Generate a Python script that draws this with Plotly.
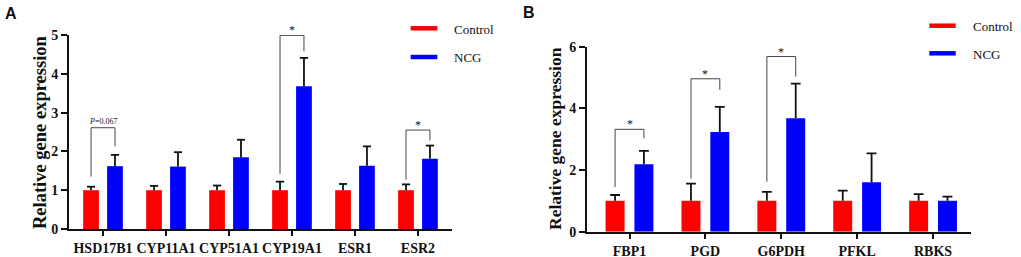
import plotly.graph_objects as go

W, H = 1021, 257

# ---------------- data ----------------
cats_a = ["HSD17B1", "CYP11A1", "CYP51A1", "CYP19A1", "ESR1", "ESR2"]
ctrl_a = [1.0, 1.0, 1.0, 1.0, 1.0, 1.0]
ctrl_a_err = [0.09, 0.11, 0.12, 0.22, 0.16, 0.15]
ncg_a = [1.62, 1.61, 1.85, 3.68, 1.63, 1.81]
ncg_a_err = [0.29, 0.37, 0.45, 0.73, 0.50, 0.34]

cats_b = ["FBP1", "PGD", "G6PDH", "PFKL", "RBKS"]
ctrl_b = [1.0, 1.0, 1.0, 1.0, 1.0]
ctrl_b_err = [0.19, 0.56, 0.29, 0.33, 0.22]
ncg_b = [2.19, 3.23, 3.68, 1.60, 1.00]
ncg_b_err = [0.43, 0.82, 1.12, 0.94, 0.14]

# significance brackets: (category index, left leg bottom, top, right leg bottom, label)
sig_a = [(0, 1.35, 2.61, 2.13, "<i>P</i>=0.067"),
         (3, 1.42, 4.99, 4.58, "*"),
         (5, 1.27, 2.55, 2.28, "*")]
sig_b = [(0, 1.45, 3.32, 3.03, "*"),
         (1, 1.72, 4.96, 4.60, "*"),
         (2, 1.62, 5.68, 5.03, "*")]

series_names = ["Control", "NCG"]
colors = ["#FF0000", "#0000FF"]

# ---------------- layout helpers ----------------
def px(p):
    return p / W

def py(p):
    return 1 - p / H

OFF = 0.19
BW = 0.25
CAP = 0.065
SERIF = "Times New Roman, Liberation Serif, serif"

fig = go.Figure()

def add_panel(cats, ctrl, ctrl_err, ncg, ncg_err, sigs, xa, ya):
    idx = list(range(len(cats)))
    for vals, errs, off, col, name in [(ctrl, ctrl_err, -OFF, colors[0], series_names[0]),
                                       (ncg, ncg_err, OFF, colors[1], series_names[1])]:
        xs = [i + off for i in idx]
        fig.add_trace(go.Bar(x=xs, y=vals, width=BW, marker=dict(color=col, line=dict(width=0)),
                             name=name, showlegend=False, xaxis=xa, yaxis=ya))
        ex, ey = [], []
        for x, v, e in zip(xs, vals, errs):
            ex += [x, x, None, x - CAP, x + CAP, None]
            ey += [v, v + e, None, v + e, v + e, None]
        fig.add_trace(go.Scatter(x=ex, y=ey, mode="lines", line=dict(color="#111111", width=1.8),
                                 showlegend=False, hoverinfo="skip", xaxis=xa, yaxis=ya))
    bx, by = [], []
    for (i, lb, top, rb, lab) in sigs:
        xl, xr = i - OFF, i + OFF
        bx += [xl, xl, xr, xr, None]
        by += [lb, top, top, rb, None]
        small = "P" in lab
        fig.add_annotation(x=i, y=top, xref=xa, yref=ya, text=lab, showarrow=False,
                           yanchor="bottom", yshift=0 if small else -4,
                           font=dict(family=SERIF, size=8 if small else 12, color="#111111"))
    fig.add_trace(go.Scatter(x=bx, y=by, mode="lines", line=dict(color="#444444", width=1),
                             showlegend=False, hoverinfo="skip", xaxis=xa, yaxis=ya))

add_panel(cats_a, ctrl_a, ctrl_a_err, ncg_a, ncg_a_err, sig_a, "x", "y")
add_panel(cats_b, ctrl_b, ctrl_b_err, ncg_b, ncg_b_err, sig_b, "x2", "y2")

tickfont = dict(family=SERIF, size=14, color="#111111", weight="bold")
axis_common = dict(showline=True, linewidth=2, linecolor="#111111", ticks="outside",
                   tickwidth=2, tickcolor="#111111", showgrid=False, zeroline=False,
                   tickfont=tickfont, fixedrange=True)

fig.update_layout(
    width=W, height=H, margin=dict(l=0, r=0, t=0, b=0, autoexpand=False),
    paper_bgcolor="white", plot_bgcolor="white", barmode="overlay",
    showlegend=False,
    xaxis=dict(domain=[px(69), px(452)], range=[-0.54, len(cats_a) - 1 + 0.54],
               tickvals=list(range(len(cats_a))), ticktext=cats_a, ticklen=5,
               anchor="y", **axis_common),
    yaxis=dict(domain=[py(229), py(35)], range=[0, 5], dtick=1, ticklen=6,
               anchor="x", **axis_common),
    xaxis2=dict(domain=[px(587), px(971)], range=[-0.56, len(cats_b) - 1 + 0.5],
                tickvals=list(range(len(cats_b))), ticktext=cats_b, ticklen=5,
                anchor="y2", **axis_common),
    yaxis2=dict(domain=[py(231.7), py(46.7)], range=[0, 6], dtick=2, ticklen=6,
                anchor="x2", **axis_common),
)

# y-axis titles
fig.add_annotation(x=px(40), y=py(132), xref="paper", yref="paper", text="Relative gene expression",
                   textangle=-90, showarrow=False, xanchor="center", yanchor="middle",
                   font=dict(family=SERIF, size=18.5, color="#111111", weight="bold"))
fig.add_annotation(x=px(555), y=py(139), xref="paper", yref="paper", text="Relative gene expression",
                   textangle=-90, showarrow=False, xanchor="center", yanchor="middle",
                   font=dict(family=SERIF, size=17.5, color="#111111", weight="bold"))

# panel letters
for lab, x, y in [("A", 11, 13), ("B", 529, 12)]:
    fig.add_annotation(x=px(x), y=py(y), xref="paper", yref="paper", text=lab, showarrow=False,
                       xanchor="center", yanchor="middle",
                       font=dict(family="Arial, Liberation Sans, sans-serif", size=16,
                                 color="#111111", weight="bold"))

# legends (drawn manually)
for (x0, x1, xt, ys) in [(410.7, 437.3, 451.7, (28.3, 57.0)), (929.3, 955.7, 971.0, (25.7, 53.3))]:
    for name, col, yy in zip(series_names, colors, ys):
        fig.add_shape(type="line", xref="paper", yref="paper", x0=px(x0), x1=px(x1),
                      y0=py(yy), y1=py(yy), line=dict(color=col, width=4.5))
        fig.add_annotation(x=px(xt), y=py(yy + 1), xref="paper", yref="paper", text=name,
                           showarrow=False, xanchor="left", yanchor="middle",
                           font=dict(family=SERIF, size=13, color="#111111"))

fig.write_html("out.html", config={"displayModeBar": False},
               post_script="document.body.style.margin='0';")
